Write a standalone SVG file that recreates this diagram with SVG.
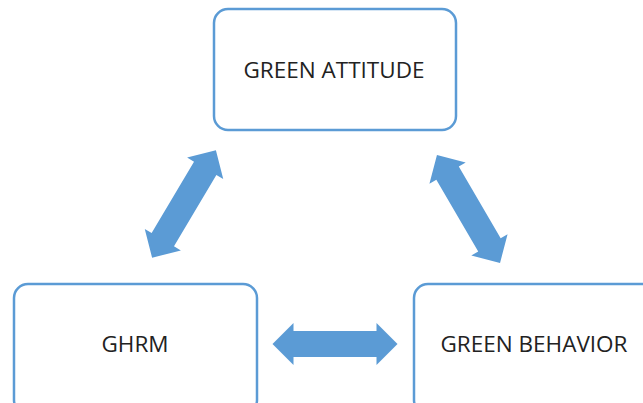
<svg xmlns="http://www.w3.org/2000/svg" xmlns:xlink="http://www.w3.org/1999/xlink" width="643" height="403" viewBox="0 0 643 403">
<style>
.box{fill:#fff;stroke:#5B9BD5;stroke-width:2.5}
.lbl{font-family:"Open Sans","Noto Sans",sans-serif;font-size:22.5px;fill:#222;text-anchor:middle}
.arr{fill:#5B9BD5}
</style>
<defs>
<path id="dbl" d="M-62.5,0 L-41.5,-21 L-41.5,-13 L41.5,-13 L41.5,-21 L62.5,0 L41.5,21 L41.5,13 L-41.5,13 L-41.5,21 Z"/>
</defs>
<rect width="643" height="403" fill="#fff"/>
<g id="connectors" class="arr">
<use xlink:href="#dbl" transform="translate(335,344)"/>
<use xlink:href="#dbl" transform="translate(184,204) rotate(-59.3)"/>
<use xlink:href="#dbl" transform="translate(468.5,209) rotate(59.7)"/>
</g>
<g id="node-attitude">
<rect class="box" x="214" y="9" width="242" height="121" rx="14"/>
<text class="lbl" x="334" y="78">GREEN ATTITUDE</text>
</g>
<g id="node-ghrm">
<rect class="box" x="14" y="284" width="243" height="130" rx="14"/>
<text class="lbl" x="135" y="352">GHRM</text>
</g>
<g id="node-behavior">
<rect class="box" x="414" y="284" width="250" height="130" rx="14"/>
<text class="lbl" x="534" y="352">GREEN BEHAVIOR</text>
</g>
</svg>
